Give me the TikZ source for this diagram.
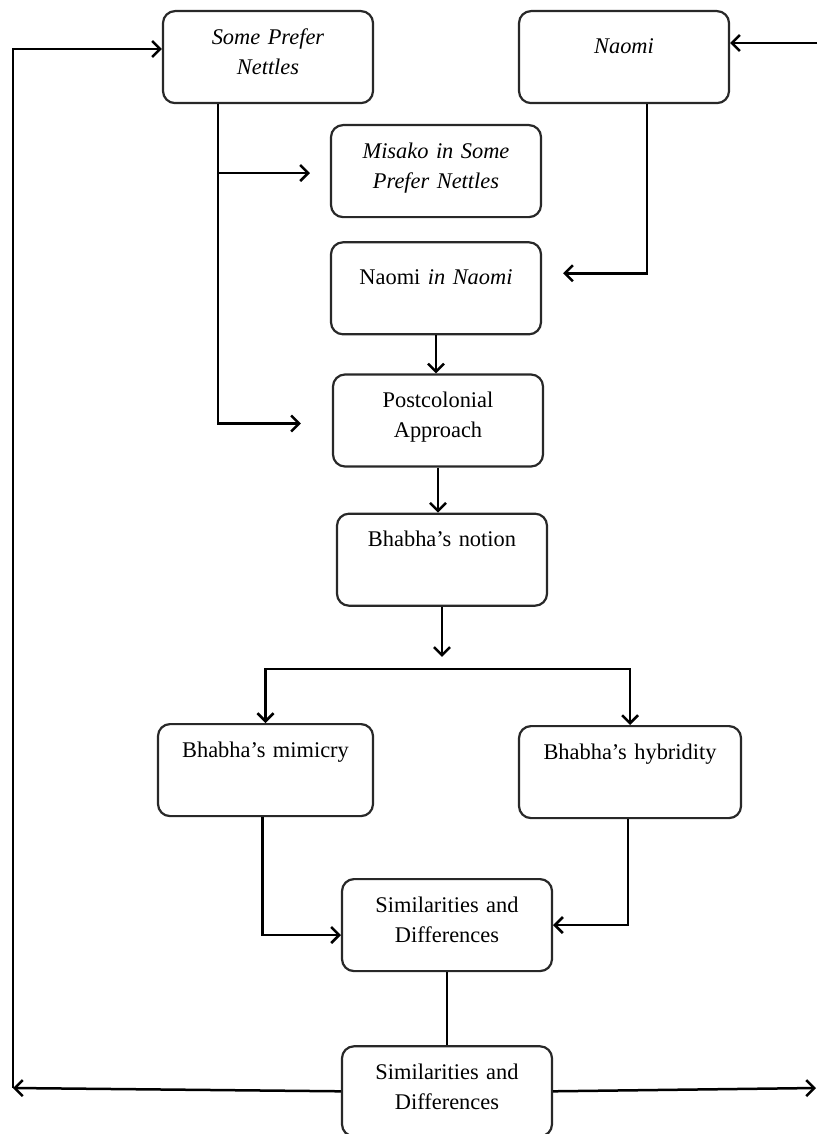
\documentclass[tikz,border=0pt]{standalone}
\usepackage{fontspec}
\setmainfont{Liberation Serif}
\usepackage{tikz}
\definecolor{boxGrey}{RGB}{40, 40, 40}
\usetikzlibrary{arrows.meta, positioning}

\begin{document}
\begin{tikzpicture}[
    x=1pt, y=1pt,
    node distance=23pt,
    box/.style={rectangle, rounded corners=12pt, draw=boxGrey, line width=2.2pt, text width=200pt, inner sep=5pt, align=center, anchor=north, text height=28pt, text depth=54pt, font=\fontsize{22.4}{30}\selectfont},
    lowtext/.style={text height=37pt, text depth=45pt},
    arrow/.style={-{Straight Barb[length=8pt, width=16pt]}, line width=2.5pt},
    link/.style={line width=1.4pt}
]
    \useasboundingbox (0,0) rectangle (817,-1134);

    % the two novels
    \node[box] (nettles) at (268,-10) {\textit{Some Prefer}\\\textit{Nettles}};
    \node[box, lowtext] (naomi) at (624,-10) {\textit{Naomi}};

    % middle column
    \node[box] (misako) at (436,-124) {\textit{Misako in Some}\\\textit{Prefer Nettles}};
    \node[box, lowtext, below=of misako] (naomiin) {Naomi \textit{in Naomi}};
    \node[box, below=38pt of naomiin, xshift=2pt] (postcol) {Postcolonial\\Approach};
    \node[box, below=45pt of postcol, xshift=4pt] (notion) {Bhabha’s notion};

    % the two concepts
    \node[box, text width=205pt] (mimicry) at (265.5,-723) {Bhabha’s mimicry};
    \node[box, text width=212pt] (hybridity) at (630,-725) {Bhabha’s hybridity};

    \node[box] (simdiff) at (447,-878) {Similarities and\\Differences};
    \node[box, below=73pt of simdiff, text depth=52pt] (simdiff2) {Similarities and\\Differences};

    \coordinate (fork) at ([yshift=-62pt]notion.south);
    \coordinate (loopL) at (13,-1088);
    \coordinate (loopT) at (13,-49);
    \coordinate (loopR) at (816,-1088);
    \coordinate (feedR) at (817,-43);

    \draw[arrow] ([xshift=-50pt]nettles.south) |- ([xshift=-20pt, yshift=-2pt]misako.west);
    \draw[arrow] ([xshift=-50pt]nettles.south) |- ([xshift=-31pt, yshift=-3pt]postcol.west);
    \draw[arrow] ([xshift=23pt]naomi.south) |- ([xshift=21pt, yshift=15pt]naomiin.east);
    \draw[arrow] (feedR) -- (feedR -| naomi.east);

    \draw[arrow] (naomiin.south) -- (naomiin.south |- postcol.north);
    \draw[arrow] (postcol.south) -- (postcol.south |- notion.north);
    \draw[arrow] (notion.south) -- ([yshift=-50pt]notion.south);
    \draw[arrow] (fork) -| (mimicry.north);
    \draw[arrow] (fork) -| (hybridity.north);

    \draw[arrow] ([xshift=-3pt]mimicry.south) |- ([yshift=-10pt]simdiff.west);
    \draw[arrow] ([xshift=-2pt]hybridity.south) |- (simdiff.east);
    \draw[link] (simdiff.south) -- (simdiff2.north);

    % back to the start
    \draw[arrow] (simdiff2.west) -- (loopL);
    \draw[arrow] (loopL) -- (loopT) -- (nettles.west |- loopT);
    \draw[arrow] (simdiff2.east) -- (loopR);
\end{tikzpicture}
\end{document}
